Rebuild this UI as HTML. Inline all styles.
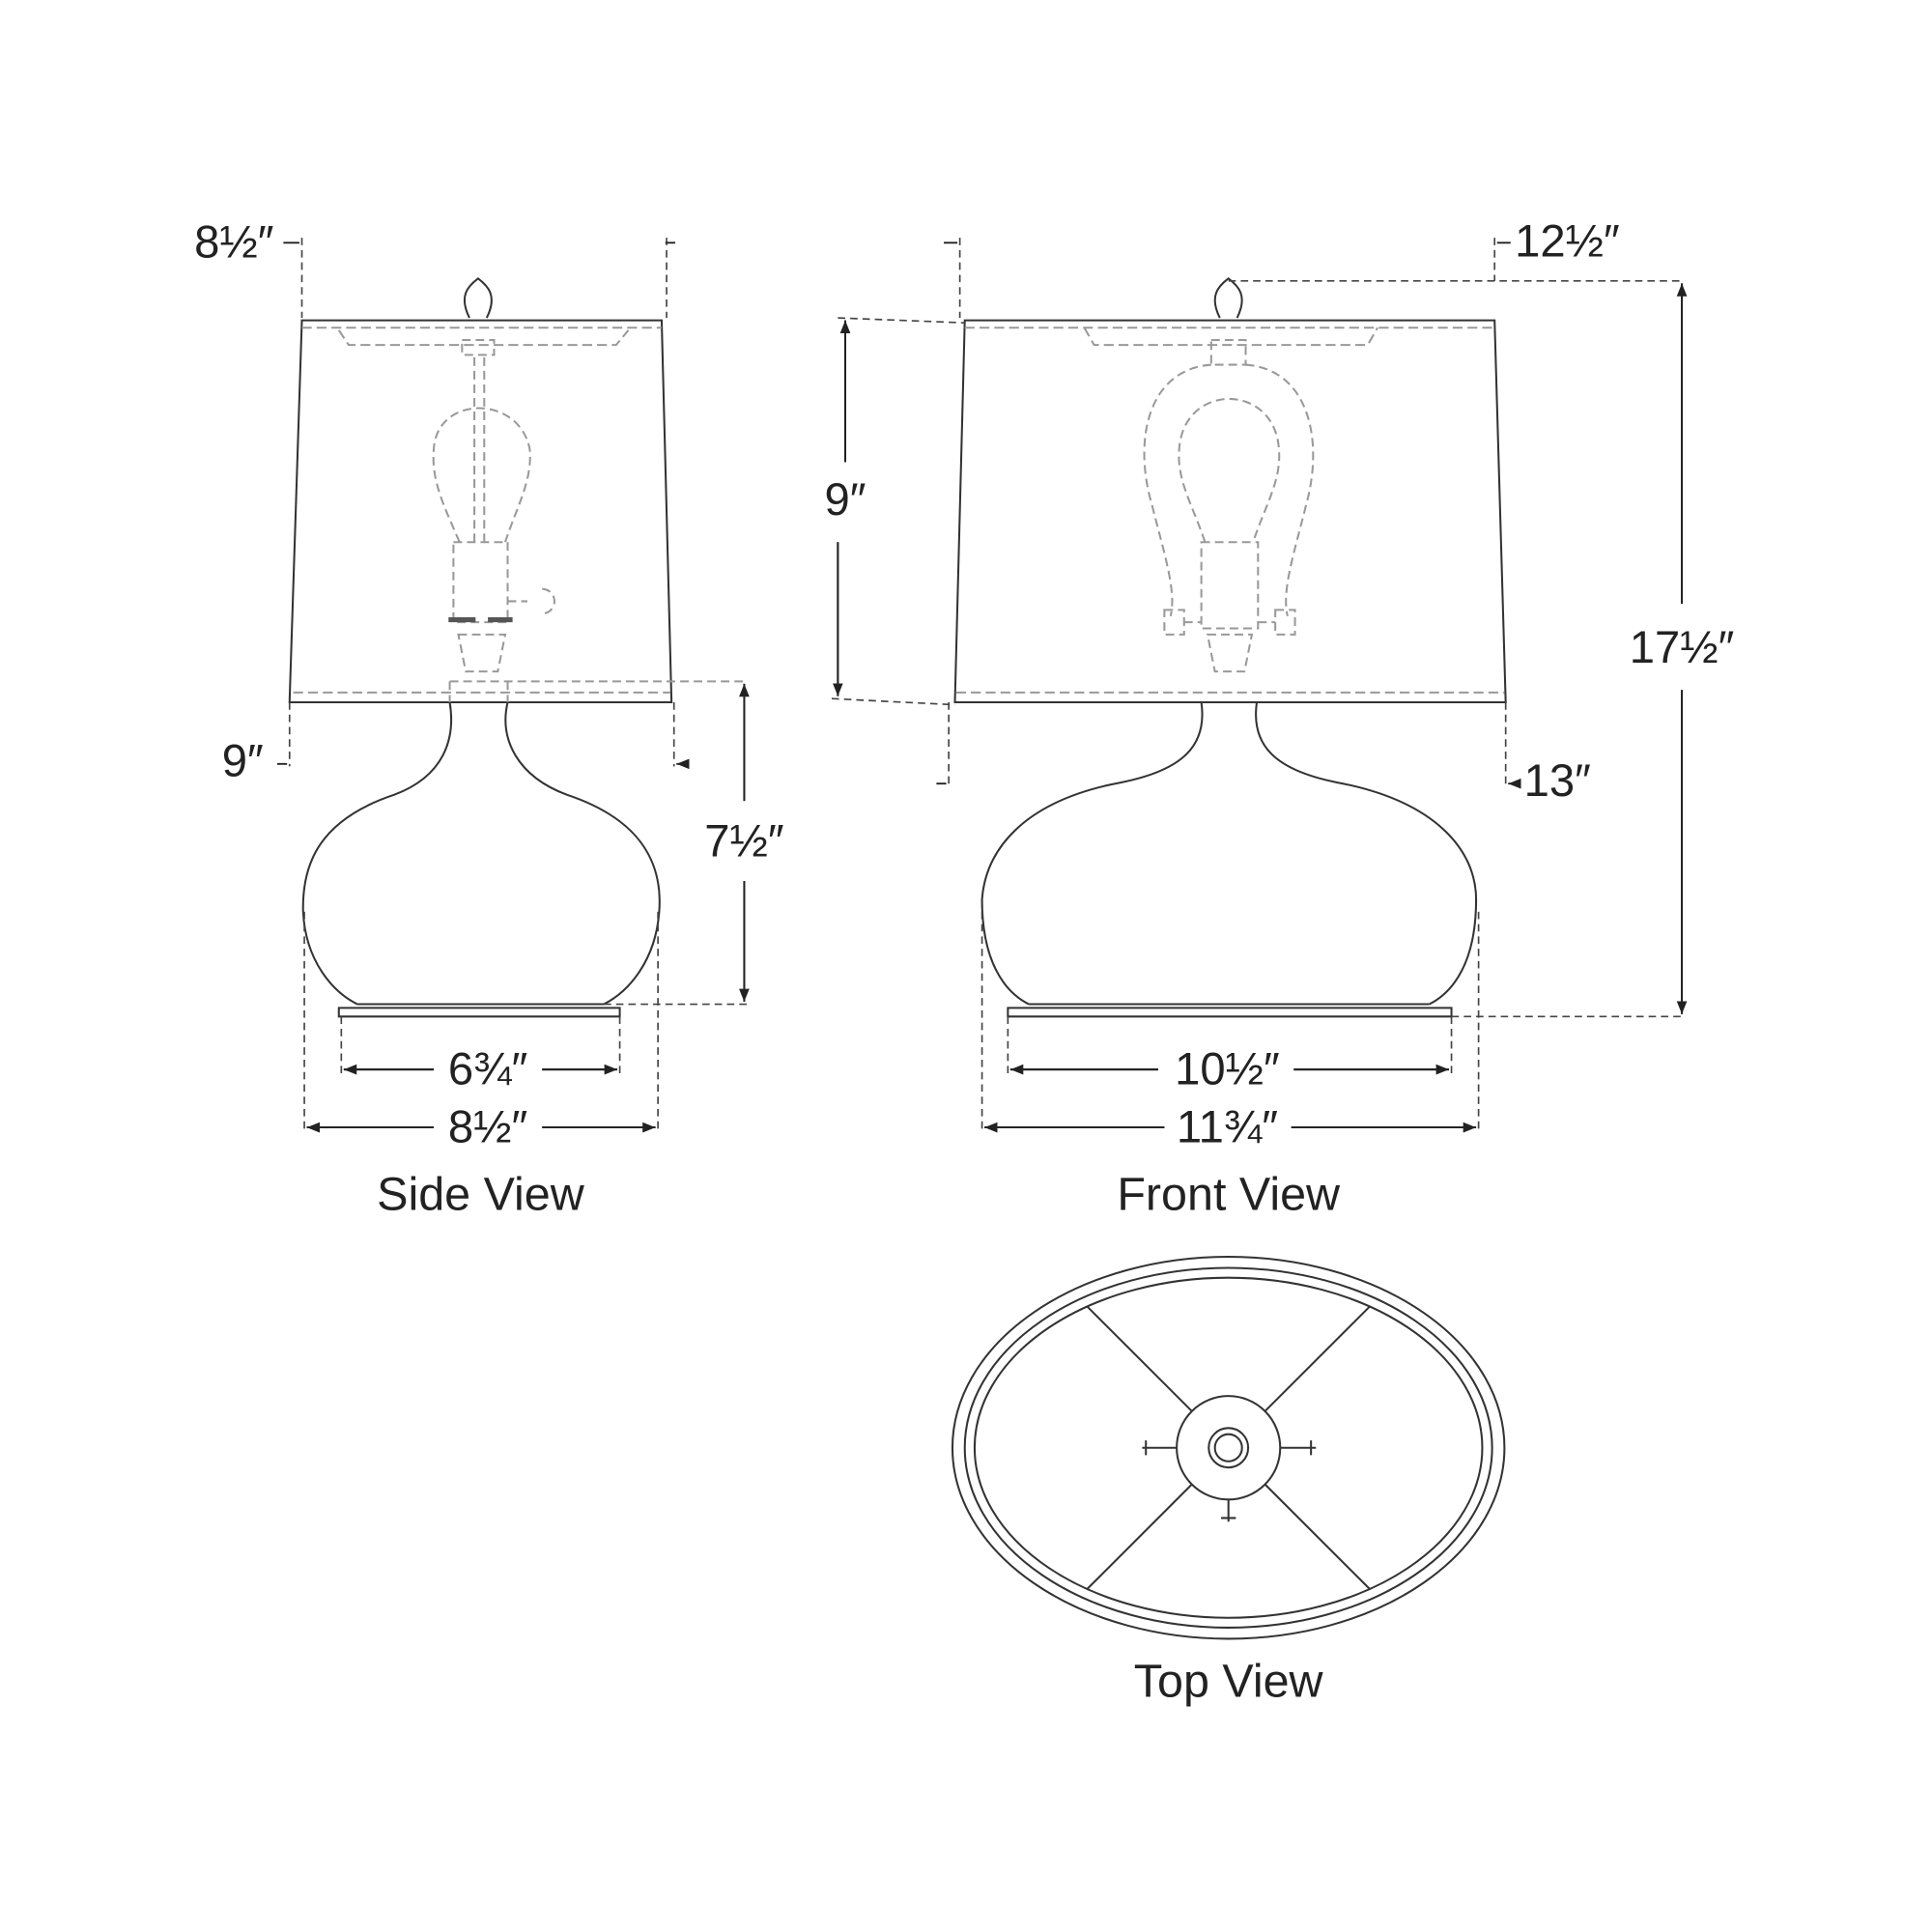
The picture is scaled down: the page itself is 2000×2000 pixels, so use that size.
<!DOCTYPE html>
<html><head><style>html,body{margin:0;padding:0;background:#fff}svg{display:block}</style></head>
<body>
<svg width="2000" height="2000" viewBox="0 0 1568 1568" xmlns="http://www.w3.org/2000/svg" font-family="Liberation Sans, sans-serif">
<defs>
<marker id="a" viewBox="0 0 10 10" refX="10" refY="5" markerWidth="7" markerHeight="7" orient="auto-start-reverse"><path d="M0,1 L10,5 L0,9 z" fill="#222"/></marker>
</defs>
<g fill="none" stroke="#333" stroke-width="1.6">
<!-- SIDE VIEW -->
<path d="M245,260 L537,260 L545,570 L235,570 Z"/>
<path d="M245,266 H537 M238,562 H544" stroke="#999" stroke-dasharray="8,4"/>
<path d="M275,268 L283,280 H500 L510,268" stroke="#999" stroke-dasharray="8,4"/>
<path d="M381,258 C372,240 380,232 388,226 C396,232 404,240 395,258"/>
<g stroke="#999" stroke-dasharray="7,4">
<rect x="375" y="276" width="26" height="12"/>
<path d="M385,290 V440 M393,290 V440"/>
<path d="M373,440 C360,410 350,390 352,365 C354,320 422,320 430,365 C432,390 420,410 410,440"/>
<rect x="368" y="440" width="44" height="65"/>
<path d="M412,488 H428 M440,478 a10,10 0 1,1 0,20"/>
<path d="M372,515 H410 L404,545 H378 Z"/>
<path d="M365,553 H605 M365,553 V570 M412,553 V570"/>
</g>
<path d="M364,503 H386 M396,503 H416" stroke="#555" stroke-width="4"/>
<path d="M365,570 C370,600 360,630 320,645 C260,665 245,700 246,740 C248,780 270,805 290,815 M412,570 C405,600 420,630 460,645 C520,665 538,700 535,740 C532,780 510,805 490,815"/>
<path d="M290,815 H490 M275,818 H503 V825 H275 Z"/>
<g stroke="#444" stroke-width="1.3" stroke-dasharray="6,4">
<path d="M245,193 V258 M541,193 V258 M235,570 V622 M547,570 V622"/>
<path d="M490,815 H610 M277,825 V872 M503,825 V872 M247,740 V920 M534,740 V920"/>
</g>
<g stroke="#222" stroke-width="1.5">
<path d="M230,197 H243 M548,197 H540 M225,620 H233 M552,620 H549" marker-end="url(#a)"/>
<path d="M604,555 V650 M604,715 V813" marker-start="url(#a)"/>
<path d="M604,650 V555 M604,715 V813" marker-end="url(#a)"/>
<path d="M279,868 H352 M440,868 H501" marker-start="url(#a)"/>
<path d="M352,868 H279 M440,868 H501" marker-end="url(#a)"/>
<path d="M249,915 H352 M440,915 H532" marker-start="url(#a)"/>
<path d="M352,915 H249 M440,915 H532" marker-end="url(#a)"/>
</g>

<!-- FRONT VIEW -->
<path d="M783,260 L1213,260 L1222,570 L775,570 Z"/>
<path d="M783,266 H1213 M776,562 H1221" stroke="#999" stroke-dasharray="8,4"/>
<path d="M880,266 L888,280 H1110 L1118,266" stroke="#999" stroke-dasharray="8,4"/>
<path d="M990,258 C981,240 989,232 997,226 C1005,232 1013,240 1004,258"/>
<g stroke="#999" stroke-dasharray="7,4">
<rect x="983" y="276" width="28" height="20"/>
<path d="M983,296 C930,300 920,360 935,410 C945,450 955,480 950,500 M1011,296 C1064,300 1074,360 1060,410 C1050,450 1040,480 1045,500"/>
<path d="M978,440 C968,410 955,390 957,365 C960,310 1035,310 1038,365 C1040,390 1027,410 1017,440"/>
<rect x="975" y="440" width="46" height="70"/>
<path d="M945,495 h16 v20 h-16 z M1035,495 h16 v20 h-16 z M961,505 H975 M1021,505 H1035"/>
<path d="M980,515 H1016 L1010,545 H986 Z"/>
</g>
<path d="M975,570 C980,605 960,625 910,635 C830,650 800,690 797,730 C797,780 815,805 835,815 M1020,570 C1015,605 1035,625 1085,635 C1165,650 1198,690 1198,730 C1198,780 1180,805 1160,815"/>
<path d="M835,815 H1160 M818,818 H1178 V825 H818 Z"/>
<g stroke="#444" stroke-width="1.3" stroke-dasharray="6,4">
<path d="M779,193 V258 M1213,193 V228 M997,228 H1365 M680,258 L783,262 M675,567 L775,572"/>
<path d="M770,570 V637 M1222,570 V637 M1178,825 H1365 M818,825 V872 M1178,825 V872 M797,740 V920 M1200,740 V920"/>
</g>
<g stroke="#222" stroke-width="1.5">
<path d="M766,197 H777 M1226,197 H1215 M760,636 H768 M1232,636 H1224" marker-end="url(#a)"/>
<path d="M1365,230 V490 M1365,560 V823" marker-start="url(#a)"/>
<path d="M1365,490 V230 M1365,560 V823" marker-end="url(#a)"/>
<path d="M686,260 V375 M680,440 V565" marker-start="url(#a)"/>
<path d="M686,375 V260 M680,440 V565" marker-end="url(#a)"/>
<path d="M820,868 H940 M1050,868 H1176" marker-start="url(#a)"/>
<path d="M940,868 H820 M1050,868 H1176" marker-end="url(#a)"/>
<path d="M799,915 H945 M1048,915 H1198" marker-start="url(#a)"/>
<path d="M945,915 H799 M1048,915 H1198" marker-end="url(#a)"/>
</g>

<!-- TOP VIEW -->
<ellipse cx="997" cy="1175" rx="224" ry="155"/>
<ellipse cx="997" cy="1175" rx="214" ry="146"/>
<ellipse cx="997" cy="1175" rx="206" ry="138"/>
<path d="M882,1060 L967,1145 M1112,1060 L1027,1145 M882,1290 L967,1205 M1112,1290 L1027,1205"/>
<circle cx="997" cy="1175" r="42"/>
<circle cx="997" cy="1175" r="16"/>
<circle cx="997" cy="1175" r="11"/>
<path d="M927,1175 H955 M1039,1175 H1068 M997,1217 V1235 M930,1169 V1181 M1064,1169 V1181 M991,1232 H1003"/>
</g>
<g font-size="37" fill="#222" text-anchor="middle">
<text x="190" y="209">8½″</text>
<text x="197" y="630">9″</text>
<text x="604" y="695">7½″</text>
<text x="396" y="880">6¾″</text>
<text x="396" y="927">8½″</text>
<text x="390" y="982" font-size="38">Side View</text>
<text x="1272" y="208">12½″</text>
<text x="686" y="418">9″</text>
<text x="1365" y="538">17½″</text>
<text x="1264" y="646">13″</text>
<text x="996" y="880">10½″</text>
<text x="996" y="927">11¾″</text>
<text x="997" y="982" font-size="38">Front View</text>
<text x="997" y="1377" font-size="38">Top View</text>
</g>
</svg>
</body></html>
